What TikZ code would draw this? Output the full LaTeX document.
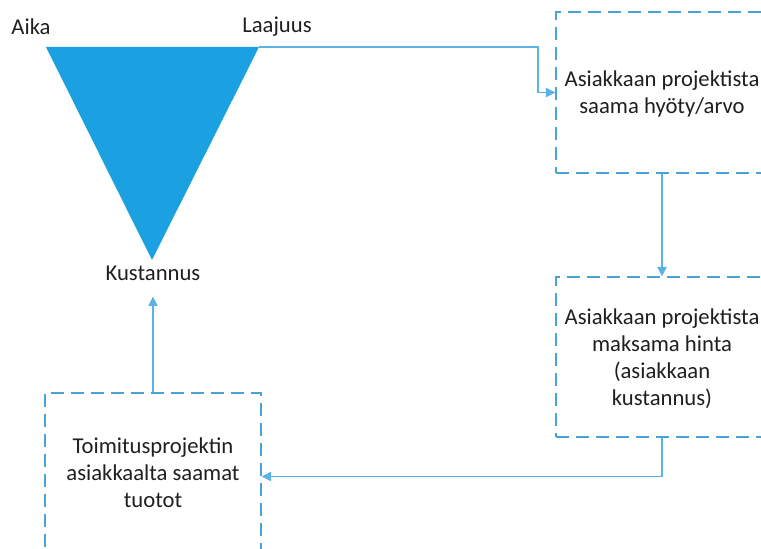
\documentclass[tikz,border=0pt]{standalone}
\usepackage{fontspec}
\setmainfont{Carlito}
\usetikzlibrary{arrows.meta,positioning,calc}
\definecolor{triblue}{HTML}{1BA1E2}
\definecolor{dashblue}{HTML}{4AA3D6}
\definecolor{lineblue}{HTML}{5AB2E6}
\tikzset{
  dbox/.style={draw=dashblue,line width=1.1pt,dash pattern=on 10pt off 5pt,inner sep=0pt},
  conn/.style={draw=lineblue,line width=0.9pt,-{Triangle[length=7pt,width=7pt]}},
  lbl/.style={font=\fontsize{17}{20.3}\selectfont,text=black!88,align=center,inner sep=0pt},
}
\begin{document}
\begin{tikzpicture}[x=0.75pt,y=-0.75pt]
\useasboundingbox (0,0) rectangle (761,549);
\clip (0,0) rectangle (761,549);
% triangle
\coordinate (tl) at (46,47);
\coordinate (tr) at (259,47);
\coordinate (ap) at (152,260);
\fill[triblue] (tl) -- (tr) -- (ap) -- cycle;
\node[lbl] (aika) at (31,27) {Aika};
\node[lbl] (laajuus) at (277,27) {Laajuus};
\node[lbl] (kust) at (153,273) {Kustannus};
% boxes
\node[dbox,minimum width=212*0.75pt,minimum height=161*0.75pt] (b1) at (662,92.5) {};
\node[dbox,minimum width=212*0.75pt,minimum height=160*0.75pt] (b2) at (662,357) {};
\node[dbox,minimum width=216*0.75pt,minimum height=167*0.75pt] (b3) at (153,476.5) {};
\node[lbl] (t1) at (662,94) {Asiakkaan projektista\\saama hyöty/arvo};
\node[lbl] (t2) at (662,359) {Asiakkaan projektista\\maksama hinta\\(asiakkaan\\kustannus)};
\node[lbl] (t3) at (153,473) {Toimitusprojektin\\asiakkaalta saamat\\tuotot};
% connectors
\coordinate (c1) at (538,47);
\draw[conn] (tr) -- (c1) |- (b1.west);
\draw[conn] (b1.south) -- (b2.north);
\coordinate (c2) at (662,476.5);
\draw[conn] (b2.south) -- (c2) -- (b3.east);
\draw[conn] (b3.north) -- ([yshift=-12pt]kust.south);
\end{tikzpicture}
\end{document}
